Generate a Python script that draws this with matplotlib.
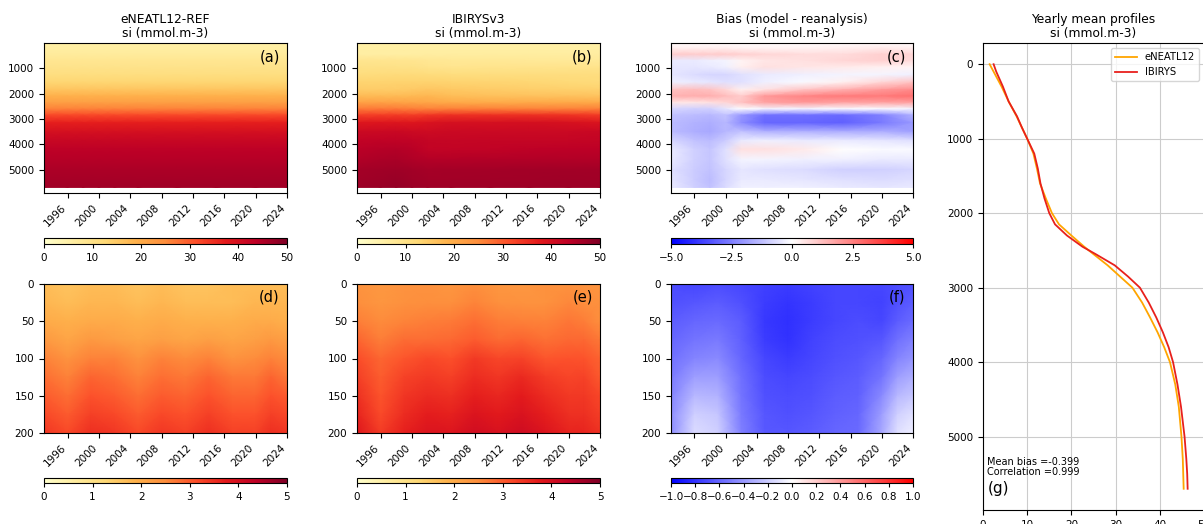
import numpy as np
import matplotlib.pyplot as plt

# ---- data ----
years_deep = [1993, 1996, 1998, 2000, 2002, 2005, 2010, 2015, 2020, 2024]
depth_deep = [0, 200, 450, 700, 950, 1250, 1550, 1850, 2100, 2350, 2600,
              2850, 3150, 3500, 3850, 4200, 4600, 5000, 5400, 5700]

# eNEATL12-REF, nearly constant in time
si_ref_deep_profile = [5.5, 6.0, 7.0, 8.5, 9.5, 11.0, 13.0, 16.0, 19.0, 22.0,
                       26.0, 32.0, 37.0, 40.0, 42.0, 43.5, 44.5, 45.5, 46.0, 46.5]

# bias model - reanalysis (panel c)
si_bias_deep = [
    [0.1, 0.1, 0.1, 0.1, 0.1, 0.1, 0.1, 0.1, 0.1, 0.1],
    [0.3, 0.3, 0.3, 0.3, 0.2, 0.2, 0.2, 0.3, 0.4, 0.3],
    [1.0, 1.0, 1.0, 1.0, 0.9, 0.8, 0.7, 0.7, 0.9, 0.8],
    [-0.4, -0.4, -0.3, -0.2, 0.2, 0.5, 0.6, 0.8, 0.9, 0.7],
    [-0.5, -0.5, -0.4, -0.3, 0.3, 0.6, 0.5, 0.4, 0.3, 0.2],
    [-0.5, -0.7, -0.8, -0.8, -0.6, -0.4, -0.3, -0.2, -0.2, -0.3],
    [-0.3, -0.4, -0.5, -0.6, -0.6, -0.3, -0.1, 0.3, 0.8, 1.2],
    [1.2, 1.3, 1.2, 0.8, 0.3, 0.6, 1.2, 1.6, 2.0, 2.3],
    [1.5, 1.6, 1.6, 1.3, 1.0, 2.0, 2.4, 2.6, 2.6, 2.8],
    [0.5, 0.5, 0.6, 0.8, 1.2, 1.8, 2.0, 1.8, 1.8, 1.8],
    [-0.8, -0.9, -0.9, -0.5, 0.0, -0.2, -0.2, -0.1, -0.1, -0.2],
    [-1.2, -1.3, -1.4, -1.2, -2.0, -2.8, -2.8, -2.9, -2.5, -1.5],
    [-1.3, -1.5, -1.6, -1.4, -2.2, -3.0, -3.0, -3.1, -2.6, -2.0],
    [-1.3, -1.6, -1.7, -1.4, -1.2, -1.5, -1.5, -1.6, -1.6, -1.8],
    [-0.8, -1.2, -1.3, -1.0, -0.4, -0.3, -0.4, -0.4, -0.5, -0.6],
    [-0.4, -0.9, -1.1, -0.6, 0.6, 0.6, 0.4, 0.0, -0.1, -0.1],
    [-0.4, -0.9, -1.1, -0.6, -0.2, -0.2, -0.3, -0.3, -0.4, -0.4],
    [-0.6, -1.0, -1.2, -0.8, -0.5, -0.6, -0.7, -0.9, -0.9, -0.8],
    [-0.5, -1.0, -1.3, -0.8, -0.4, -0.4, -0.5, -0.6, -0.7, -0.6],
    [-0.4, -0.9, -1.2, -0.7, -0.3, -0.3, -0.3, -0.4, -0.5, -0.4],
]

years_surf = [1993, 1996, 1999, 2002, 2005, 2008, 2011, 2014, 2017, 2020, 2022, 2024]
depth_surf = [0, 25, 50, 75, 100, 125, 150, 175, 200]

si_ref_surf = [
    [1.7, 1.6, 1.7, 1.7, 1.6, 1.7, 1.6, 1.6, 1.7, 1.7, 1.7, 1.7],
    [1.8, 1.7, 1.8, 1.8, 1.7, 1.8, 1.7, 1.7, 1.7, 1.8, 1.8, 1.8],
    [2.0, 1.9, 2.0, 2.0, 1.9, 2.0, 1.9, 1.9, 1.9, 2.0, 2.0, 1.9],
    [2.3, 2.1, 2.3, 2.2, 2.1, 2.2, 2.1, 2.2, 2.1, 2.2, 2.3, 2.2],
    [2.6, 2.4, 2.6, 2.6, 2.4, 2.6, 2.5, 2.6, 2.4, 2.5, 2.6, 2.5],
    [2.8, 2.6, 2.9, 2.8, 2.6, 2.8, 2.7, 2.9, 2.7, 2.7, 2.9, 2.7],
    [3.0, 2.8, 3.1, 3.0, 2.8, 3.0, 2.9, 3.1, 2.9, 2.9, 3.1, 3.0],
    [3.2, 3.0, 3.3, 3.2, 3.0, 3.2, 3.1, 3.3, 3.1, 3.1, 3.3, 3.2],
    [3.4, 3.2, 3.5, 3.4, 3.2, 3.4, 3.3, 3.5, 3.3, 3.3, 3.5, 3.4],
]

si_bias_surf = [
    [-0.70, -0.72, -0.70, -0.72, -0.75, -0.76, -0.74, -0.72, -0.72, -0.72, -0.70, -0.68],
    [-0.68, -0.66, -0.64, -0.68, -0.76, -0.79, -0.76, -0.72, -0.72, -0.74, -0.68, -0.64],
    [-0.64, -0.60, -0.58, -0.64, -0.78, -0.81, -0.76, -0.72, -0.70, -0.72, -0.64, -0.58],
    [-0.60, -0.54, -0.52, -0.62, -0.76, -0.80, -0.74, -0.70, -0.68, -0.66, -0.56, -0.50],
    [-0.56, -0.48, -0.46, -0.60, -0.72, -0.76, -0.72, -0.68, -0.66, -0.60, -0.48, -0.42],
    [-0.52, -0.38, -0.38, -0.56, -0.70, -0.72, -0.70, -0.66, -0.64, -0.54, -0.38, -0.32],
    [-0.48, -0.28, -0.30, -0.54, -0.68, -0.70, -0.68, -0.64, -0.62, -0.46, -0.28, -0.22],
    [-0.45, -0.18, -0.22, -0.52, -0.66, -0.68, -0.66, -0.62, -0.60, -0.38, -0.18, -0.12],
    [-0.44, -0.14, -0.18, -0.50, -0.65, -0.66, -0.64, -0.60, -0.58, -0.34, -0.12, -0.07],
]

profile_depth = [0, 100, 300, 500, 700, 850, 1000, 1200, 1400, 1600, 1800, 2000,
                 2150, 2300, 2450, 2550, 2700, 2850, 3000, 3200, 3400, 3600, 3800,
                 4000, 4300, 4600, 5000, 5300, 5500, 5700]
profile_eneatl = [1.5, 2.4, 4.2, 5.8, 7.6, 8.8, 10.0, 11.4, 12.2, 12.9, 14.2, 15.6,
                  17.2, 20.0, 22.9, 25.0, 28.2, 31.0, 33.8, 36.0, 37.8, 39.5, 41.0,
                  42.3, 43.5, 44.3, 44.9, 45.2, 45.3, 45.4]
profile_ibirys = [2.4, 3.0, 4.5, 5.8, 7.7, 8.8, 10.0, 11.6, 12.4, 13.0, 13.9, 15.0,
                  16.3, 19.0, 22.5, 25.5, 29.8, 32.8, 35.5, 37.5, 39.2, 40.7, 42.0,
                  43.0, 44.0, 44.8, 45.6, 46.0, 46.2, 46.3]

# ---- derived fields ----
bias_deep = np.array(si_bias_deep)
ref_deep = np.repeat(np.array(si_ref_deep_profile)[:, None], len(years_deep), axis=1)
rea_deep = ref_deep - bias_deep
bias_surf = np.array(si_bias_surf)
ref_surf = np.array(si_ref_surf)
rea_surf = ref_surf - bias_surf

W, H = 1203, 524
fig = plt.figure(figsize=(W / 100, H / 100), dpi=100)
plt.rcParams['font.size'] = 7.5


def box(x0, y0, x1, y1):
    return fig.add_axes([x0 / W, 1 - y1 / H, (x1 - x0) / W, (y1 - y0) / H])


def heat(ax, cax, x, y, z, cmap, vmin, vmax, label, title=None, deep=True, cticks=None):
    m = ax.pcolormesh(x, y, z, cmap=cmap, vmin=vmin, vmax=vmax, shading='gouraud')
    ax.set_xlim(1993, 2024)
    ax.set_xticks(range(1996, 2025, 4))
    ax.tick_params(axis='x', labelrotation=45)
    for t in ax.get_xticklabels():
        t.set_ha('right')
    if deep:
        ax.set_ylim(5920, 0.5)
        ax.set_yticks([1000, 2000, 3000, 4000, 5000])
    else:
        ax.set_ylim(200, 0)
        ax.set_yticks([0, 50, 100, 150, 200])
    ax.text(0.97, 0.96, label, transform=ax.transAxes, ha='right', va='top', fontsize=10.5)
    if title:
        ax.set_title(title, fontsize=8.8, pad=4, linespacing=1.15)
    cb = fig.colorbar(m, cax=cax, orientation='horizontal')
    if cticks is not None:
        cb.set_ticks(cticks)
    cb.ax.tick_params(labelsize=7.5, length=3)


cols = [(44, 287), (357, 600), (671, 913)]
top = (43, 193)
bot = (284, 433)
cb_top = (238, 244)
cb_bot = (478, 483)

unit = 'si (mmol.m-3)'
heat(box(cols[0][0], top[0], cols[0][1], top[1]), box(cols[0][0], cb_top[0], cols[0][1], cb_top[1]),
     years_deep, depth_deep, ref_deep, 'YlOrRd', 0, 50, '(a)', 'eNEATL12-REF\n' + unit)
heat(box(cols[1][0], top[0], cols[1][1], top[1]), box(cols[1][0], cb_top[0], cols[1][1], cb_top[1]),
     years_deep, depth_deep, rea_deep, 'YlOrRd', 0, 50, '(b)', 'IBIRYSv3\n' + unit)
heat(box(cols[2][0], top[0], cols[2][1], top[1]), box(cols[2][0], cb_top[0], cols[2][1], cb_top[1]),
     years_deep, depth_deep, bias_deep, 'bwr', -5, 5, '(c)', 'Bias (model - reanalysis)\n' + unit,
     cticks=[-5, -2.5, 0, 2.5, 5])
heat(box(cols[0][0], bot[0], cols[0][1], bot[1]), box(cols[0][0], cb_bot[0], cols[0][1], cb_bot[1]),
     years_surf, depth_surf, ref_surf, 'YlOrRd', 0, 5, '(d)', deep=False)
heat(box(cols[1][0], bot[0], cols[1][1], bot[1]), box(cols[1][0], cb_bot[0], cols[1][1], cb_bot[1]),
     years_surf, depth_surf, rea_surf, 'YlOrRd', 0, 5, '(e)', deep=False)
heat(box(cols[2][0], bot[0], cols[2][1], bot[1]), box(cols[2][0], cb_bot[0], cols[2][1], cb_bot[1]),
     years_surf, depth_surf, bias_surf, 'bwr', -1, 1, '(f)', deep=False,
     cticks=np.arange(-1.0, 1.01, 0.2))

# ---- yearly mean profiles ----
axg = box(983, 43, 1204, 510)
axg.plot(profile_eneatl, profile_depth, color='orange', lw=1.3, label='eNEATL12')
axg.plot(profile_ibirys, profile_depth, color='#e8201c', lw=1.3, label='IBIRYS')
axg.set_xlim(0, 50)
axg.set_ylim(5985, -285)
axg.set_yticks([0, 1000, 2000, 3000, 4000, 5000])
axg.grid(True, color='#cccccc', lw=0.8)
axg.set_title('Yearly mean profiles\n' + unit, fontsize=8.8, pad=4, linespacing=1.15)
axg.legend(loc='upper right', fontsize=7.2, handlelength=2.2)
axg.text(0.02, 0.07, 'Mean bias =-0.399\nCorrelation =0.999', transform=axg.transAxes,
         fontsize=7, va='bottom', linespacing=1.0)
axg.text(0.02, 0.045, '(g)', transform=axg.transAxes, fontsize=11, va='center')

fig.savefig('out.png', dpi=100)
